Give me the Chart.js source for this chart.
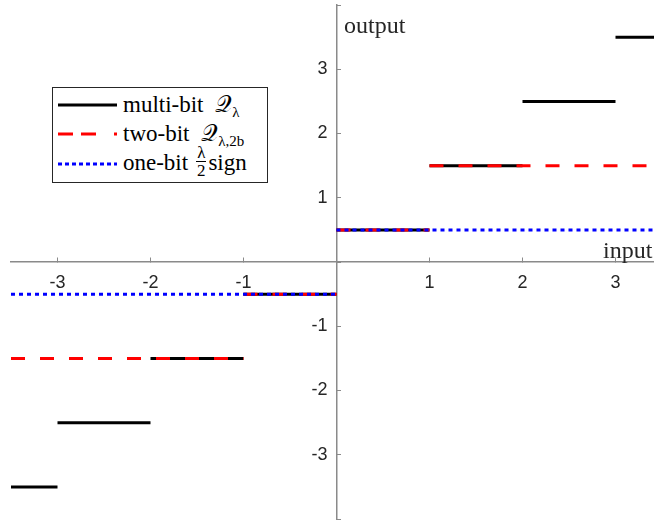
<!DOCTYPE html>
<html>
<head>
<meta charset="utf-8">
<script src="https://cdn.jsdelivr.net/npm/chart.js@4"></script>
<style>
  html, body { margin: 0; padding: 0; background: #fff; }
  #wrap { position: relative; width: 654px; height: 520px; overflow: hidden; }
  #c { position: absolute; left: 0; top: 0; }
  .lab { position: absolute; font-family: "Liberation Serif", serif; font-size: 24px; color: #262626; line-height: 1; white-space: nowrap; }
  #legend { position: absolute; left: 52px; top: 87px; width: 214px; height: 94px; border: 1px solid #262626; background: #fff; font-family: "Liberation Serif", serif; font-size: 23px; color: #000; }
  .row { position: absolute; left: 5px; height: 30px; display: flex; align-items: center; white-space: nowrap; }
  .row svg { display: block; margin-right: 6px; }
  .q { font-style: normal; margin-left: 6px; }
  sub { font-size: 15px; vertical-align: -5px; line-height: 0; }
  .frac { display: inline-flex; flex-direction: column; align-items: center; font-size: 17px; line-height: 1; vertical-align: middle; margin: 0 2px 0 8px; position: relative; top: -3px; }
  .frac .num { border-bottom: 1px solid #000; padding: 0 1px; }
</style>
</head>
<body>
<div id="wrap">
  <canvas id="c" width="654" height="520"></canvas>
  <div class="lab" style="left:344px; top:13px;">output</div>
  <div class="lab" style="left:603px; top:238px;">input</div>
  <div id="legend">
    <div class="row" style="top:2px;">
      <svg width="59" height="6"><line x1="0" y1="3" x2="59" y2="3" stroke="#000" stroke-width="3"/></svg>
      <span>multi-bit <span class="q">𝒬</span><sub>λ</sub></span>
    </div>
    <div class="row" style="top:31px;">
      <svg width="59" height="6"><line x1="0" y1="3" x2="59" y2="3" stroke="#ff0000" stroke-width="3" stroke-dasharray="15 8 15 18 3"/></svg>
      <span>two-bit <span class="q">𝒬</span><sub>λ,2b</sub></span>
    </div>
    <div class="row" style="top:61px;">
      <svg width="59" height="6"><line x1="0" y1="3" x2="59" y2="3" stroke="#0000ff" stroke-width="3" stroke-dasharray="4 3"/></svg>
      <span>one-bit<span class="frac"><span class="num">λ</span><span>2</span></span>sign</span>
    </div>
  </div>
</div>
<script>
// ---- data ----
const xTickValues = [-3, -2, -1, 0, 1, 2, 3];
const xTickLabels = ['-3', '-2', '-1', '', '1', '2', '3'];
const yTickValues = [-4, -3, -2, -1, 0, 1, 2, 3, 4];
const yTickLabels = ['', '-3', '-2', '-1', '', '1', '2', '3', ''];

const multiEdges  = [-3.5, -3, -2, -1, 0, 1, 2, 3, 3.5];
const multiLevels = [-3.5, -2.5, -1.5, -0.5, 0.5, 1.5, 2.5, 3.5];
const twoEdges    = [-3.5, -1, 0, 1, 3.5];
const twoLevels   = [-1.5, -0.5, 0.5, 1.5];
const oneEdges    = [-3.5, 0, 3.5];
const oneLevels   = [-0.5, 0.5];

function steps(edges, levels) {
  const pts = [];
  levels.forEach((v, i) => {
    pts.push({ x: edges[i], y: v }, { x: edges[i + 1], y: v });
    if (i < levels.length - 1) pts.push({ x: edges[i + 1], y: null });
  });
  return pts;
}

const AXIS = '#8a8a8a';
const TXT = '#262626';
const noPad = s => { s.paddingTop = 0; s.paddingBottom = 0; s.paddingLeft = 0; s.paddingRight = 0; };

new Chart(document.getElementById('c'), {
  type: 'line',
  data: {
    datasets: [
      { label: 'multi-bit', data: steps(multiEdges, multiLevels), borderColor: '#000', borderWidth: 3, order: 3 },
      { label: 'two-bit', data: steps(twoEdges, twoLevels), borderColor: '#ff0000', borderWidth: 3, borderDash: [14, 15], order: 2 },
      { label: 'one-bit', data: steps(oneEdges, oneLevels), borderColor: '#0000ff', borderWidth: 3, borderDash: [4, 4], order: 1 }
    ]
  },
  options: {
    responsive: false,
    animation: false,
    spanGaps: false,
    layout: { padding: { left: 11, top: 5, right: 0, bottom: 1 } },
    elements: { point: { radius: 0, hoverRadius: 0 }, line: { tension: 0, borderCapStyle: 'butt', fill: false } },
    plugins: { legend: { display: false }, tooltip: { enabled: false } },
    scales: {
      x: {
        type: 'linear', min: -3.5, max: 3.414,
        position: { y: 0 },
        afterBuildTicks: s => { s.ticks = xTickValues.map(v => ({ value: v })); },
        afterFit: noPad,
        grid: { display: true, drawOnChartArea: false, drawTicks: true, tickLength: -5, tickColor: AXIS, tickWidth: 1 },
        border: { display: true, color: AXIS, width: 1.5 },
        ticks: {
          padding: 15, color: TXT, maxRotation: 0, autoSkip: false,
          font: { family: 'Liberation Sans', size: 18 },
          callback: v => { const i = xTickValues.indexOf(v); return i >= 0 ? xTickLabels[i] : ''; }
        }
      },
      y: {
        type: 'linear', min: -4, max: 4,
        position: { x: 0 },
        afterBuildTicks: s => { s.ticks = yTickValues.map(v => ({ value: v })); },
        afterFit: noPad,
        grid: { display: true, drawOnChartArea: false, drawTicks: true, tickLength: -5, tickColor: AXIS, tickWidth: 1 },
        border: { display: true, color: AXIS, width: 1.5 },
        ticks: {
          padding: 0, color: TXT, autoSkip: false,
          font: { family: 'Liberation Sans', size: 18 },
          callback: v => { const i = yTickValues.indexOf(v); return (i >= 0 && yTickLabels[i]) ? yTickLabels[i] + '\u2002' : ''; }
        }
      }
    }
  }
});
</script>
</body>
</html>
